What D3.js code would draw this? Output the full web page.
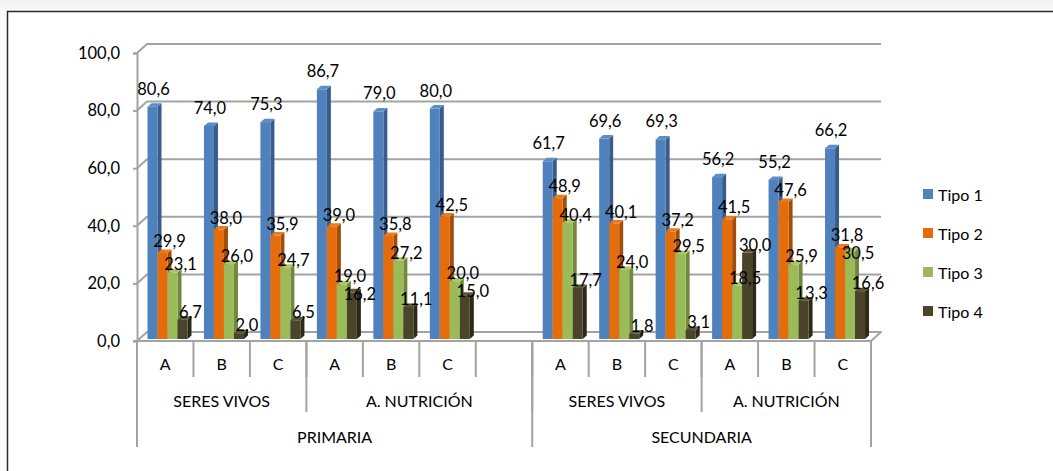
<!DOCTYPE html>
<html>
<head>
<meta charset="utf-8">
<script src="https://cdn.jsdelivr.net/npm/d3@7/dist/d3.min.js"></script>
<style>
  html, body { margin: 0; padding: 0; background: #fff; }
  svg { display: block; font-family: Lato, "Open Sans", sans-serif; }
</style>
</head>
<body>
<svg id="chart" width="1053" height="471"></svg>
<script>
// Series and category labels
const seriesNames = ["Tipo 1", "Tipo 2", "Tipo 3", "Tipo 4"];
const stages = ["PRIMARIA", "SECUNDARIA"];
const topics = ["SERES VIVOS", "A. NUTRICIÓN"];
const groups = ["A", "B", "C"];
const yTicks = [0, 20, 40, 60, 80, 100];

// Values per category, in order: PRIMARIA (SV A,B,C, AN A,B,C), SECUNDARIA (same)
const tipo1 = [80.6, 74.0, 75.3, 86.7, 79.0, 80.0, 61.7, 69.6, 69.3, 56.2, 55.2, 66.2];
const tipo2 = [29.9, 38.0, 35.9, 39.0, 35.8, 42.5, 48.9, 40.1, 37.2, 41.5, 47.6, 31.8];
const tipo3 = [23.1, 26.0, 24.7, 19.0, 27.2, 20.0, 40.4, 24.0, 29.5, 18.5, 25.9, 30.5];
const tipo4 = [6.7, 2.0, 6.5, 16.2, 11.1, 15.0, 17.7, 1.8, 3.1, 30.0, 13.3, 16.6];

const seriesValues = [tipo1, tipo2, tipo3, tipo4];
const frontColors = ["#4F81BD", "#E46C0A", "#9BBB59", "#4A452A"];
const sideColors  = ["#385D8A", "#A34E08", "#71893F", "#2C2918"];
const topColors   = ["#5B8DC8", "#EE7A1C", "#A8C668", "#5A5535"];

// Build category slots (PRIMARIA has one trailing empty slot inside A. NUTRICIÓN)
const slots = [];
stages.forEach((st, si) => {
  topics.forEach((tp, ti) => {
    groups.forEach((g, gi) => {
      slots.push({ key: `${si}-${ti}-${gi}`, stage: st, topic: tp, group: g, idx: si * 6 + ti * 3 + gi });
    });
    if (si === 0 && ti === 1) slots.push({ key: "0-1-gap", stage: st, topic: tp, group: "", idx: null });
  });
});

const svg = d3.select("#chart");
const fmt = d3.formatLocale({ decimal: ",", thousands: ".", grouping: [3], currency: ["", ""] }).format(".1f");

// Chart frame with soft shading outside
const defs = svg.append("defs");
const grad = defs.append("linearGradient").attr("id", "topShade").attr("x1", 0).attr("y1", 0).attr("x2", 0).attr("y2", 1);
grad.append("stop").attr("offset", "0%").attr("stop-color", "#f0f0f0");
grad.append("stop").attr("offset", "100%").attr("stop-color", "#fafafa");
svg.append("rect").attr("x", 0).attr("y", 0).attr("width", 1053).attr("height", 11).attr("fill", "url(#topShade)");
svg.append("rect").attr("x", 0).attr("y", 11).attr("width", 7).attr("height", 460).attr("fill", "#fbfbfb");
svg.append("path").attr("d", "M7.5,480 V11.5 H1060").attr("fill", "none").attr("stroke", "#2b2b2b").attr("stroke-width", 1.5);

// Scales
const x = d3.scaleBand().domain(slots.map(d => d.key)).range([137, 871]).paddingInner(0).paddingOuter(0);
const yFront = d3.scaleLinear().domain([0, 100]).range([341, 53]);
const yBar = d3.scaleLinear().domain([0, 100]).range([339, 51]);
const depthX = 10, depthY = -9;       // wall / floor depth
const bx = 4, by = -3.5;               // bar depth
const barW = 10, barOffset = 10.5;
const grid = "#a3a3a3";
const fontSize = 16.5;

const axisLeft = 137, axisRight = 871;

// Side wall + back wall gridlines
svg.append("g").selectAll("path").data(yTicks).join("path")
  .attr("d", t => {
    const yf = yFront(t);
    return t === 0
      ? `M${axisLeft},${yf} L${axisLeft + depthX},${yf + depthY} L${axisRight + depthX},${yf + depthY} L${axisRight},${yf}`
      : `M${axisLeft},${yf} L${axisLeft + depthX},${yf + depthY} L${axisRight + depthX},${yf + depthY}`;
  })
  .attr("fill", "none").attr("stroke", grid).attr("stroke-width", 2).attr("stroke-linejoin", "round");

// Value axis
const yAxis = d3.axisLeft(yFront).tickValues(yTicks).tickSize(4).tickPadding(13).tickFormat(fmt);
const gy = svg.append("g").attr("transform", `translate(${axisLeft},0)`).call(yAxis);
gy.select(".domain").attr("stroke", grid).attr("stroke-width", 2);
gy.selectAll(".tick line").attr("stroke", grid).attr("stroke-width", 2);
gy.selectAll(".tick text").attr("font-size", fontSize).attr("font-family", "Lato, sans-serif").attr("fill", "#000");

// Bars
const barsG = svg.append("g");
slots.filter(s => s.idx !== null).forEach(s => {
  seriesValues.forEach((vals, k) => {
    const v = vals[s.idx];
    const x0 = x(s.key) + barOffset + k * barW;
    const x1 = x0 + barW;
    const yt = yBar(v), yb = yBar(0);
    const g = barsG.append("g");
    g.append("path").attr("d", `M${x1},${yb} L${x1 + bx},${yb + by} L${x1 + bx},${yt + by} L${x1},${yt} Z`).attr("fill", sideColors[k]);
    g.append("path").attr("d", `M${x0},${yt} L${x0 + bx},${yt + by} L${x1 + bx},${yt + by} L${x1},${yt} Z`).attr("fill", topColors[k]);
    g.append("rect").attr("x", x0).attr("y", yt).attr("width", barW).attr("height", yb - yt).attr("fill", frontColors[k]);
  });
});

// Front floor edge
svg.append("path").attr("d", `M${axisLeft - 4},${yFront(0)} L${axisRight},${yFront(0)}`)
  .attr("stroke", grid).attr("stroke-width", 2);

// Data labels: placed above each bar, nudged down when they collide with the previous label in the cluster
const labelsG = svg.append("g").attr("font-size", fontSize).attr("fill", "#000").attr("text-anchor", "middle");
const labelDx = [1, 7, 8, 8];
const labelDy = [-18, -12, -8, -8];
const lineH = 17;
slots.filter(s => s.idx !== null).forEach(s => {
  const placed = [];
  seriesValues.forEach((vals, k) => {
    const v = vals[s.idx];
    const cx = x(s.key) + barOffset + k * barW + barW / 2 + labelDx[k];
    let cy = yBar(v) + labelDy[k];
    const t = labelsG.append("text").attr("x", cx).attr("dominant-baseline", "central").text(fmt(v));
    const w = t.node().getComputedTextLength();
    let moved = true;
    while (moved) {
      moved = false;
      for (const p of placed) {
        if (Math.abs(p.cx - cx) < (p.w + w) / 2 && Math.abs(p.cy - cy) < lineH) {
          cy = p.cy + lineH + 1;
          moved = true;
        }
      }
    }
    t.attr("y", cy);
    placed.push({ cx, cy, w });
  });
});

// Multi-level category axis
const axisG = svg.append("g").attr("stroke", grid).attr("stroke-width", 2);
const y0 = yFront(0);
const lvl1 = 377, lvl2 = 412, lvl3 = 447;
// level 1 separators
const bounds1 = slots.map(s => x(s.key)).concat([axisRight]);
axisG.selectAll("line.l1").data(bounds1).join("line")
  .attr("x1", d => d).attr("x2", d => d).attr("y1", y0).attr("y2", lvl1);
// level 2 separators (topic groups)
const topicStarts = [];
slots.forEach((s, i) => { if (i === 0 || slots[i - 1].topic !== s.topic || slots[i - 1].stage !== s.stage) topicStarts.push(i); });
const bounds2 = topicStarts.map(i => x(slots[i].key)).concat([axisRight]);
axisG.selectAll("line.l2").data(bounds2).join("line")
  .attr("x1", d => d).attr("x2", d => d).attr("y1", y0).attr("y2", lvl2);
// level 3 separators (stages)
const stageStarts = [];
slots.forEach((s, i) => { if (i === 0 || slots[i - 1].stage !== s.stage) stageStarts.push(i); });
const bounds3 = stageStarts.map(i => x(slots[i].key)).concat([axisRight]);
axisG.selectAll("line.l3").data(bounds3).join("line")
  .attr("x1", d => d).attr("x2", d => d).attr("y1", y0).attr("y2", lvl3);

const catText = svg.append("g").attr("font-size", 16).attr("fill", "#000").attr("text-anchor", "middle").attr("dominant-baseline", "central");
slots.filter(s => s.group).forEach(s => {
  catText.append("text").attr("x", x(s.key) + x.bandwidth() / 2).attr("y", 363).text(s.group);
});
topicStarts.forEach((st, j) => {
  const a = bounds2[j], b = bounds2[j + 1];
  catText.append("text").attr("x", (a + b) / 2).attr("y", 400).text(slots[st].topic);
});
stageStarts.forEach((st, j) => {
  const a = bounds3[j], b = bounds3[j + 1];
  catText.append("text").attr("x", (a + b) / 2).attr("y", 436).text(slots[st].stage);
});

// Legend
const legend = svg.append("g").attr("transform", "translate(923,194)");
seriesNames.forEach((name, k) => {
  const row = legend.append("g").attr("transform", `translate(0,${k * 39})`);
  row.append("rect").attr("x", 0).attr("y", -5).attr("width", 10).attr("height", 10).attr("fill", frontColors[k]);
  row.append("text").attr("x", 15).attr("y", 0).attr("dominant-baseline", "central")
    .attr("font-size", 16).attr("fill", "#000").text(name);
});
</script>
</body>
</html>
